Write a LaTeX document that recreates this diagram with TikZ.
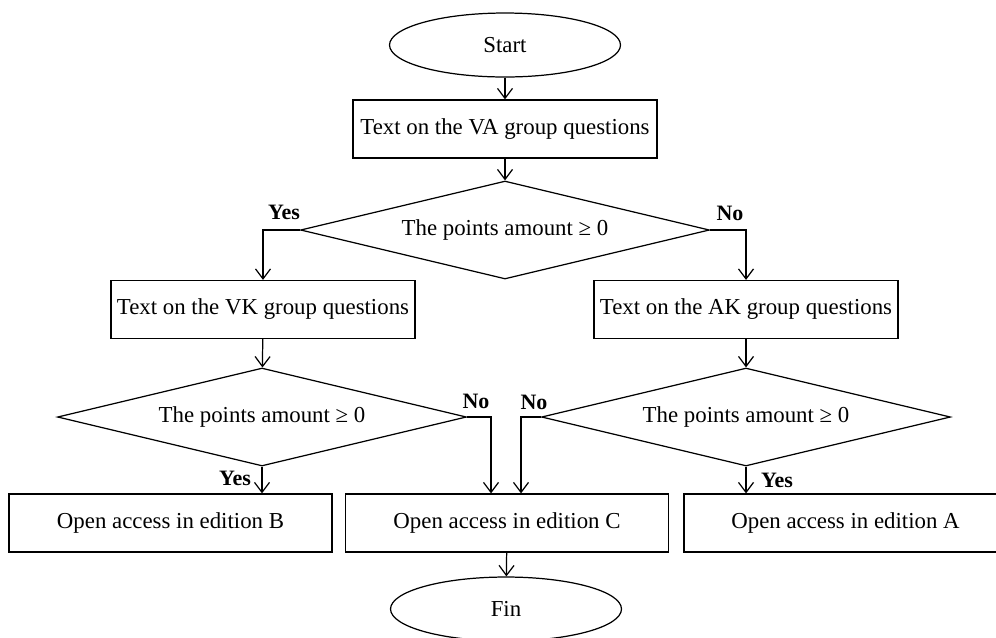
\documentclass[tikz,border=0pt]{standalone}
\usepackage{fontspec}
\setmainfont{Liberation Serif}
\usetikzlibrary{shapes.geometric,arrows.meta}
\tikzset{
	% common look of all blocks and arrows
	every node/.style={font=\fontsize{13}{15}\selectfont},
	flow/.style={draw=black,line width=0.7pt,-{Straight Barb[length=2mm,width=3mm]}},
	% terminal (start / end)
	term/.style={draw,ellipse,line width=0.7pt,inner sep=0pt,minimum width=4.62cm,minimum height=1.28cm},
	% process block
	proc/.style={draw,rectangle,line width=0.7pt,inner sep=0pt,minimum width=6.08cm,minimum height=1.16cm},
	% wide output block
	outbox/.style={draw,rectangle,line width=0.7pt,inner sep=0pt,minimum width=6.46cm,minimum height=1.16cm},
	% decision
	decide/.style={draw,diamond,aspect=4.2,line width=0.7pt,inner sep=0pt,minimum width=8.18cm,minimum height=1.96cm},
	answer/.style={font=\fontsize{12.5}{15}\selectfont\bfseries},
}
\begin{document}
\begin{tikzpicture}[x=0.02cm,y=-0.02cm]
		\useasboundingbox (0,0) rectangle (996,637);
		\clip (0,0) rectangle (996,637);
		\node[term] (start) at (505,45) {Start};
		\node[proc] (va) at (505,129) {Text on the VA group questions};
		\node[decide] (d1) at (505,230) {The points amount ≥ 0};
		\node[proc] (vk) at (263,309.5) {Text on the VK group questions};
		\node[proc] (ak) at (746,309.5) {Text on the AK group questions};
		\node[decide] (d2) at (262,417) {The points amount ≥ 0};
		\node[decide] (d3) at (746,417) {The points amount ≥ 0};
		\node[outbox] (edB) at (170.5,523) {Open access in edition B};
		\node[outbox] (edC) at (507,523) {Open access in edition C};
		\node[outbox] (edA) at (845.5,523) {Open access in edition A};
		\node[term] (fin) at (506,609) {Fin};
		% connectors
		\draw[flow] (start) -- (va);
		\draw[flow] (va) -- (d1);
		\draw[flow] (d1.west) -| (vk.north);
		\draw[flow] (d1.east) -| (ak.north);
		\draw[flow] (vk) -- (d2);
		\draw[flow] (ak) -- (d3);
		\draw[flow] (d2.south) -- (d2.south |- edB.north);
		\draw[flow] (d3.south) -- (d3.south |- edA.north);
		\draw[flow] (d2.east) -| ([xshift=-0.32cm]edC.north);
		\draw[flow] (d3.west) -| ([xshift=0.28cm]edC.north);
		\draw[flow] (edC) -- (fin);
		% answers
		\node[answer] (y1) at (284,212) {Yes};
		\node[answer] (n1) at (730,213) {No};
		\node[answer] (n2) at (476,401) {No};
		\node[answer] (n3) at (534,402) {No};
		\node[answer] (y2) at (235,478) {Yes};
		\node[answer] (y3) at (777,480) {Yes};
		\end{tikzpicture}
\end{document}
